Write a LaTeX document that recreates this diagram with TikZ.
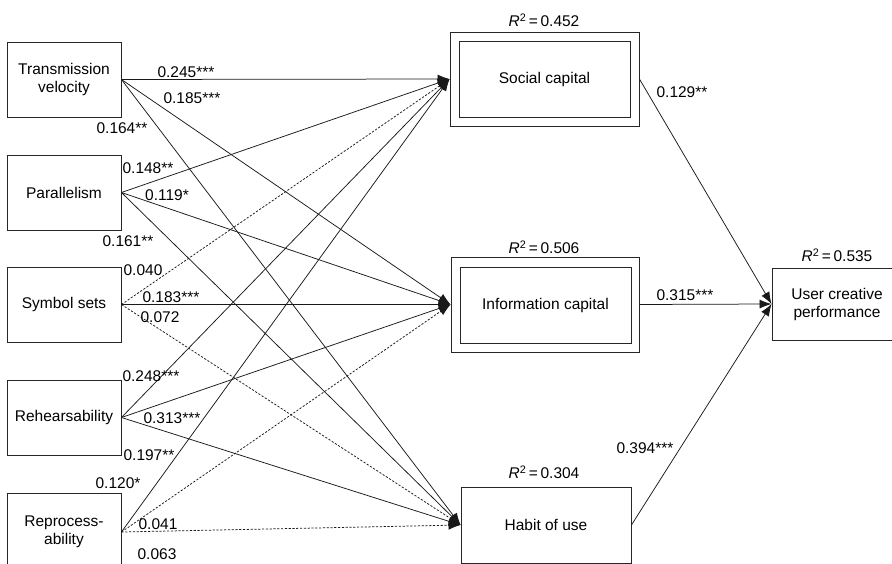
\documentclass[tikz,border=0pt]{standalone}
\usepackage{fontspec}
\setmainfont{Liberation Sans}
\usetikzlibrary{arrows.meta}
\begin{document}
\begin{tikzpicture}[x=1pt,y=-1pt,
  every node/.style={font=\fontsize{15.5}{18}\selectfont},
  box/.style={draw=black!85, line width=0.9pt, align=center, inner sep=0pt},
  lbl/.style={inner sep=0pt},
  link/.style={draw=black!90, line width=0.75pt, -{Latex[length=12pt,width=9pt]}},
  dsh/.style={dash pattern=on 2.2pt off 1.6pt}]
\useasboundingbox (0,0) rectangle (892,564);
\clip (0,0) rectangle (892,564);
% source boxes
\node[box, minimum width=114pt, minimum height=75pt] (tv)  at (64,79.5)  {Transmission\\velocity};
\node[box, minimum width=114pt, minimum height=75pt] (par) at (64,192.5) {Parallelism};
\node[box, minimum width=114pt, minimum height=75pt] (sym) at (64,304.5) {Symbol sets};
\node[box, minimum width=114pt, minimum height=75pt] (reh) at (64,417.5) {Rehearsability};
\node[box, minimum width=114pt, minimum height=78pt] (rep) at (64,532)   {Reprocess-\\ability};
% mediators
\node[box, minimum width=189pt, minimum height=94pt] (soc) at (544.5,79) {};
\node[box, minimum width=171pt, minimum height=76pt] (socin) at (544.5,79) {Social capital};
\node[box, minimum width=188pt, minimum height=95pt] (inf) at (545,304.5) {};
\node[box, minimum width=171pt, minimum height=76pt] (infin) at (545.5,305) {Information capital};
\node[box, minimum width=170pt, minimum height=76pt] (hab) at (546,525) {Habit of use};
\node[box, minimum width=130pt, minimum height=72pt] (ucp) at (837,304) {User creative\\performance};
% R squared
\node[lbl] (r1) at (544,20)  {\textit{R}\textsuperscript{2}\,=\,0.452};
\node[lbl] (r2) at (544,247) {\textit{R}\textsuperscript{2}\,=\,0.506};
\node[lbl] (r3) at (544,472) {\textit{R}\textsuperscript{2}\,=\,0.304};
\node[lbl] (r4) at (837,255) {\textit{R}\textsuperscript{2}\,=\,0.535};
% paths to mediators
\draw[link] (tv.east) -- (soc.west);
\draw[link] (tv.east) -- (inf.west);
\draw[link] (tv.east) -- (hab.west);
\draw[link] (par.east) -- (soc.west);
\draw[link] (par.east) -- (inf.west);
\draw[link] (par.east) -- (hab.west);
\draw[link,dsh] (sym.east) -- (soc.west);
\draw[link] (sym.east) -- (inf.west);
\draw[link,dsh] (sym.east) -- (hab.west);
\draw[link] (reh.east) -- (soc.west);
\draw[link] (reh.east) -- (inf.west);
\draw[link] (reh.east) -- (hab.west);
\draw[link] (rep.east) -- (soc.west);
\draw[link,dsh] (rep.east) -- (inf.west);
\draw[link,dsh] (rep.east) -- (hab.west);
% paths to outcome
\draw[link] (soc.east) -- (ucp.west);
\draw[link] (inf.east) -- (ucp.west);
\draw[link] (hab.east) -- (ucp.west);
% coefficient labels
\node[lbl] (l1)  at (186,72)  {0.245***};
\node[lbl] (l2)  at (192,98)  {0.185***};
\node[lbl] (l3)  at (122,128) {0.164**};
\node[lbl] (l4)  at (148,168) {0.148**};
\node[lbl] (l5)  at (167,195) {0.119*};
\node[lbl] (l6)  at (128,241) {0.161**};
\node[lbl] (l7)  at (143,270) {0.040};
\node[lbl] (l8)  at (171,297) {0.183***};
\node[lbl] (l9)  at (160,317) {0.072};
\node[lbl] (l10) at (151,376) {0.248***};
\node[lbl] (l11) at (172,418) {0.313***};
\node[lbl] (l12) at (149,455) {0.197**};
\node[lbl] (l13) at (118,483) {0.120*};
\node[lbl] (l14) at (158,524) {0.041};
\node[lbl] (l15) at (157,554) {0.063};
\node[lbl] (m1)  at (682,92)  {0.129**};
\node[lbl] (m2)  at (685,295) {0.315***};
\node[lbl] (m3)  at (645,448) {0.394***};
\end{tikzpicture}
\end{document}
